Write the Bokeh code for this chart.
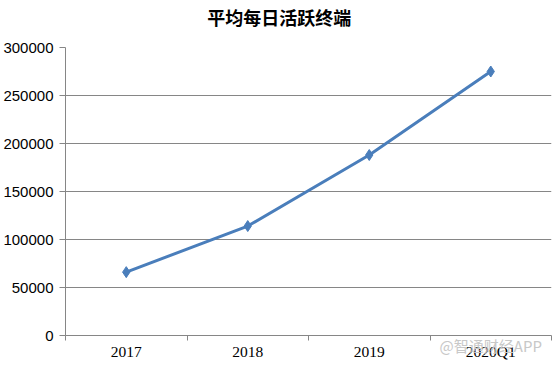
from bokeh.plotting import figure
from bokeh.models import FixedTicker, Range1d, LinearAxis, ColumnDataSource
from bokeh.embed import file_html
from bokeh.resources import INLINE
import numpy as np

categories = ["2017", "2018", "2019", "2020Q1"]
values = [66000, 114000, 188000, 275000]
y_ticks = [0, 50000, 100000, 150000, 200000, 250000, 300000]
title_text = "平均每日活跃终端"
watermark = "@智通财经APP"

xpos = np.arange(len(categories)) + 0.5
src = ColumnDataSource(dict(x=xpos, y=values))

p = figure(width=554, height=367, output_backend="svg", toolbar_location=None,
           x_range=Range1d(0, len(categories)), y_range=Range1d(0, 300000),
           min_border_left=65, min_border_right=3, min_border_top=47, min_border_bottom=32)
p.title.visible = False

p.outline_line_color = None
p.background_fill_color = "white"
p.border_fill_color = "white"

xa = p.below[0]
ya = p.left[0]

# x axis
xa.ticker = FixedTicker(ticks=list(xpos), minor_ticks=list(range(len(categories) + 1)))
xa.major_label_overrides = {float(x): c for x, c in zip(xpos, categories)}
xa.major_tick_out = 0
xa.major_tick_in = 0
xa.minor_tick_out = 5
xa.minor_tick_in = 0
xa.minor_tick_line_color = "#868686"
xa.axis_line_color = "#868686"
xa.major_label_text_font = "Liberation Serif"
xa.major_label_text_font_size = "15.5px"
xa.major_label_text_color = "#000000"
xa.major_label_standoff = 2

# y axis
ya.ticker = FixedTicker(ticks=y_ticks)
ya.major_label_overrides = {t: str(t) for t in y_ticks}
ya.major_tick_out = 6
ya.major_tick_in = 0
ya.minor_tick_out = 0
ya.minor_tick_in = 0
ya.major_tick_line_color = "#868686"
ya.axis_line_color = "#868686"
ya.major_label_text_font = "Liberation Sans"
ya.major_label_text_font_size = "15px"
ya.major_label_text_color = "#000000"
ya.major_label_standoff = 6

# chart title as a single label row above the frame
title_x = 1.76
ta = LinearAxis(ticker=FixedTicker(ticks=[title_x]),
                major_label_overrides={title_x: title_text},
                axis_line_color=None, major_tick_line_color=None, minor_tick_line_color=None,
                major_tick_out=0, major_tick_in=0, minor_tick_out=0, minor_tick_in=0,
                major_label_standoff=18,
                major_label_text_font="Noto Sans CJK SC", major_label_text_font_size="18px",
                major_label_text_font_style="bold", major_label_text_color="#000000")
p.add_layout(ta, "above")

# watermark as an extra, overlapping label row
wm_x = 3.5
wa = LinearAxis(ticker=FixedTicker(ticks=[wm_x]),
                major_label_overrides={wm_x: watermark},
                axis_line_color=None, major_tick_line_color=None, minor_tick_line_color=None,
                major_tick_out=0, major_tick_in=0, minor_tick_out=0, minor_tick_in=0,
                major_label_standoff=-28,
                major_label_text_font="Noto Sans CJK SC", major_label_text_font_size="15px",
                major_label_text_color="#c8c8c8")
p.add_layout(wa, "below")

p.xgrid.grid_line_color = None
p.ygrid.ticker = FixedTicker(ticks=y_ticks)
p.ygrid.grid_line_color = "#868686"
p.ygrid.grid_line_width = 1

p.line("x", "y", source=src, line_color="#4A7EBB", line_width=3)
p.scatter("x", "y", source=src, marker="diamond", size=11, fill_color="#4A7EBB",
          line_color="#4A7EBB")

open("out.html", "w").write(file_html(p, INLINE))
